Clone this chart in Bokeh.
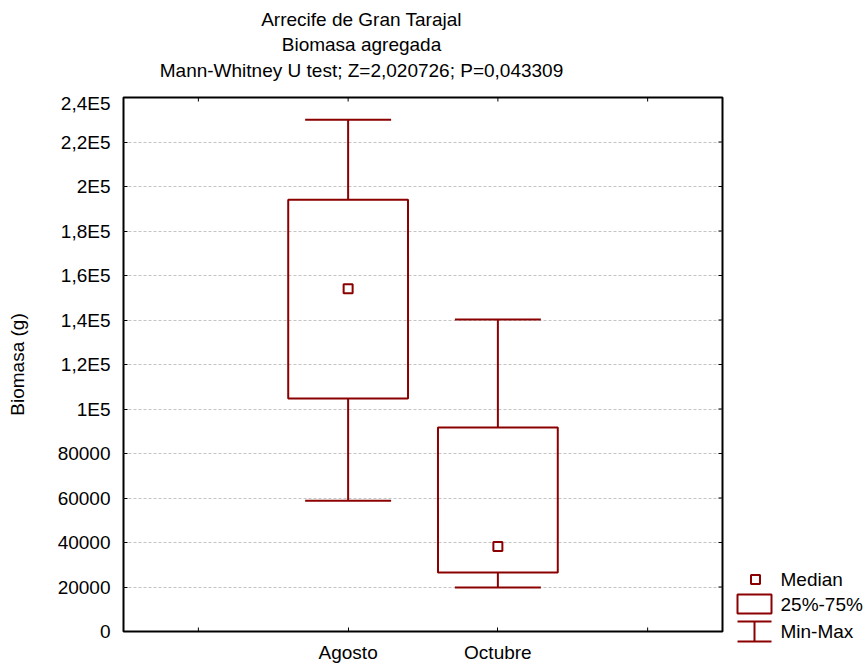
from bokeh.plotting import figure
from bokeh.models import Range1d, FixedTicker
from bokeh.layouts import row, column
from bokeh.embed import file_html
from bokeh.resources import INLINE
from bokeh.core.properties import value

# ---------------- data ----------------
categories = ["Agosto", "Octubre"]
mins = [58800, 19800]
q1 = [104700, 26500]
medians = [154000, 38200]
q3 = [194000, 91700]
maxs = [230000, 140200]

y_ticks = [0, 20000, 40000, 60000, 80000, 100000, 120000, 140000,
           160000, 180000, 200000, 220000, 240000]
y_tick_labels = ["0", "20000", "40000", "60000", "80000", "1E5", "1,2E5",
                 "1,4E5", "1,6E5", "1,8E5", "2E5", "2,2E5", "2,4E5"]
x_ticks = [0, 1, 2, 3]

title_lines = ["Arrecife de Gran Tarajal", "Biomasa agregada",
               "Mann-Whitney U test; Z=2,020726; P=0,043309"]
y_label = "Biomasa (g)"
legend_labels = ["Median", "25%-75%", "Min-Max"]

# ---------------- style / layout ----------------
RED = "#8b0000"
FONT = "Liberation Sans"
FS = "19px"

W, H = 867, 665
TITLE_H = 92
MAIN_W = 730
FRAME_L, FRAME_R, FRAME_T, FRAME_B = 123, 722, 97, 631
X0, X1 = -0.5, 3.5
Y0, Y1 = 0, 240000
TICK_PX = 4

xs = [i + 1 for i in range(len(categories))]
box_half = 0.4
cap_half = 0.287

dx_tick = TICK_PX / (FRAME_R - FRAME_L) * (X1 - X0)
dy_tick = TICK_PX / (FRAME_B - FRAME_T) * (Y1 - Y0)

# ---------------- title panel ----------------
tf = figure(width=MAIN_W, height=TITLE_H, x_range=Range1d(FRAME_L, FRAME_R),
            y_range=Range1d(TITLE_H, 0),
            output_backend="svg", toolbar_location=None,
            min_border_left=FRAME_L, min_border_right=MAIN_W - FRAME_R,
            min_border_top=0, min_border_bottom=0,
            x_axis_location=None, y_axis_location=None)
tf.outline_line_color = None
tf.grid.visible = False
tf.text(x=[361, 361, 361], y=[19, 44, 70], text=title_lines,
        text_align="center", text_baseline="middle", text_font=value(FONT),
        text_font_size=FS, text_color="black")

# ---------------- main plot ----------------
p = figure(width=MAIN_W, height=H - TITLE_H, x_range=Range1d(X0, X1), y_range=Range1d(Y0, Y1),
           output_backend="svg", toolbar_location=None,
           min_border_left=FRAME_L, min_border_right=MAIN_W - FRAME_R,
           min_border_top=FRAME_T - TITLE_H, min_border_bottom=H - FRAME_B)
p.background_fill_color = "white"
p.border_fill_color = "white"
p.outline_line_color = "black"
p.outline_line_width = 2

xa = p.xaxis[0]
xa.ticker = FixedTicker(ticks=xs)
xa.major_label_overrides = {x: c for x, c in zip(xs, categories)}
ya = p.yaxis[0]
ya.ticker = FixedTicker(ticks=y_ticks)
ya.major_label_overrides = {t: l for t, l in zip(y_ticks, y_tick_labels)}
ya.axis_label = y_label
ya.axis_label_text_font_style = "normal"
ya.axis_label_standoff = 27

for ax in (xa, ya):
    ax.major_tick_in = TICK_PX
    ax.major_tick_out = 0
    ax.minor_tick_line_color = None
    ax.axis_line_color = None
    ax.major_tick_line_color = "black"
    ax.major_tick_line_width = 1
    ax.major_label_text_font = FONT
    ax.major_label_text_font_size = FS
    ax.major_label_text_color = "black"
    ax.axis_label_text_font = FONT
    ax.axis_label_text_font_size = FS
    ax.axis_label_text_color = "black"
xa.major_label_standoff = 10
ya.major_label_standoff = 13

p.xgrid.visible = False
p.ygrid.ticker = FixedTicker(ticks=y_ticks[1:-1])
p.ygrid.grid_line_color = "#c4c4c4"
p.ygrid.grid_line_dash = "3 2"
p.ygrid.grid_line_width = 1

# inward tick marks on the unlabeled sides (top, right) and the extra bottom ticks
extra_bottom = [t for t in x_ticks if t not in xs]
p.segment(x0=extra_bottom, y0=[Y0] * len(extra_bottom),
          x1=extra_bottom, y1=[Y0 + dy_tick] * len(extra_bottom),
          line_color="black", line_width=1)
p.segment(x0=x_ticks, y0=[Y1] * len(x_ticks), x1=x_ticks, y1=[Y1 - dy_tick] * len(x_ticks),
          line_color="black", line_width=1)
p.segment(x0=[X1] * len(y_ticks), y0=y_ticks, x1=[X1 - dx_tick] * len(y_ticks), y1=y_ticks,
          line_color="black", line_width=1)

# whiskers
p.segment(x0=xs, y0=mins, x1=xs, y1=q1, line_color=RED, line_width=2)
p.segment(x0=xs, y0=q3, x1=xs, y1=maxs, line_color=RED, line_width=2)
p.segment(x0=[x - cap_half for x in xs], y0=mins, x1=[x + cap_half for x in xs], y1=mins,
          line_color=RED, line_width=2)
p.segment(x0=[x - cap_half for x in xs], y0=maxs, x1=[x + cap_half for x in xs], y1=maxs,
          line_color=RED, line_width=2)
# boxes
p.quad(left=[x - box_half for x in xs], right=[x + box_half for x in xs],
       bottom=q1, top=q3, fill_color=None, line_color=RED, line_width=2)
# medians
p.scatter(x=xs, y=medians, marker="square", size=9, fill_color="white",
          line_color=RED, line_width=2)

# ---------------- legend panel (full height, right column) ----------------
lg = figure(width=W - MAIN_W, height=H, x_range=Range1d(MAIN_W, W),
            y_range=Range1d(H, 0),
            output_backend="svg", toolbar_location=None, min_border=0,
            x_axis_location=None, y_axis_location=None)
lg.outline_line_color = None
lg.grid.visible = False
lg.background_fill_color = "white"
lg.border_fill_color = "white"

lg.scatter(x=[755], y=[579], marker="square", size=9, fill_color="white",
           line_color=RED, line_width=2)
lg.quad(left=[737], right=[771], top=[594], bottom=[613], fill_color=None,
        line_color=RED, line_width=2)
lg.segment(x0=[737, 754, 737], y0=[621, 621, 641], x1=[771, 754, 771], y1=[621, 641, 641],
           line_color=RED, line_width=2)
lg.text(x=[780, 780, 780], y=[579, 604, 631], text=legend_labels,
        text_baseline="middle", text_align="left", text_font=value(FONT),
        text_font_size=FS, text_color="black")

layout = row(column(tf, p), lg)
open("out.html", "w").write(file_html(layout, INLINE))
